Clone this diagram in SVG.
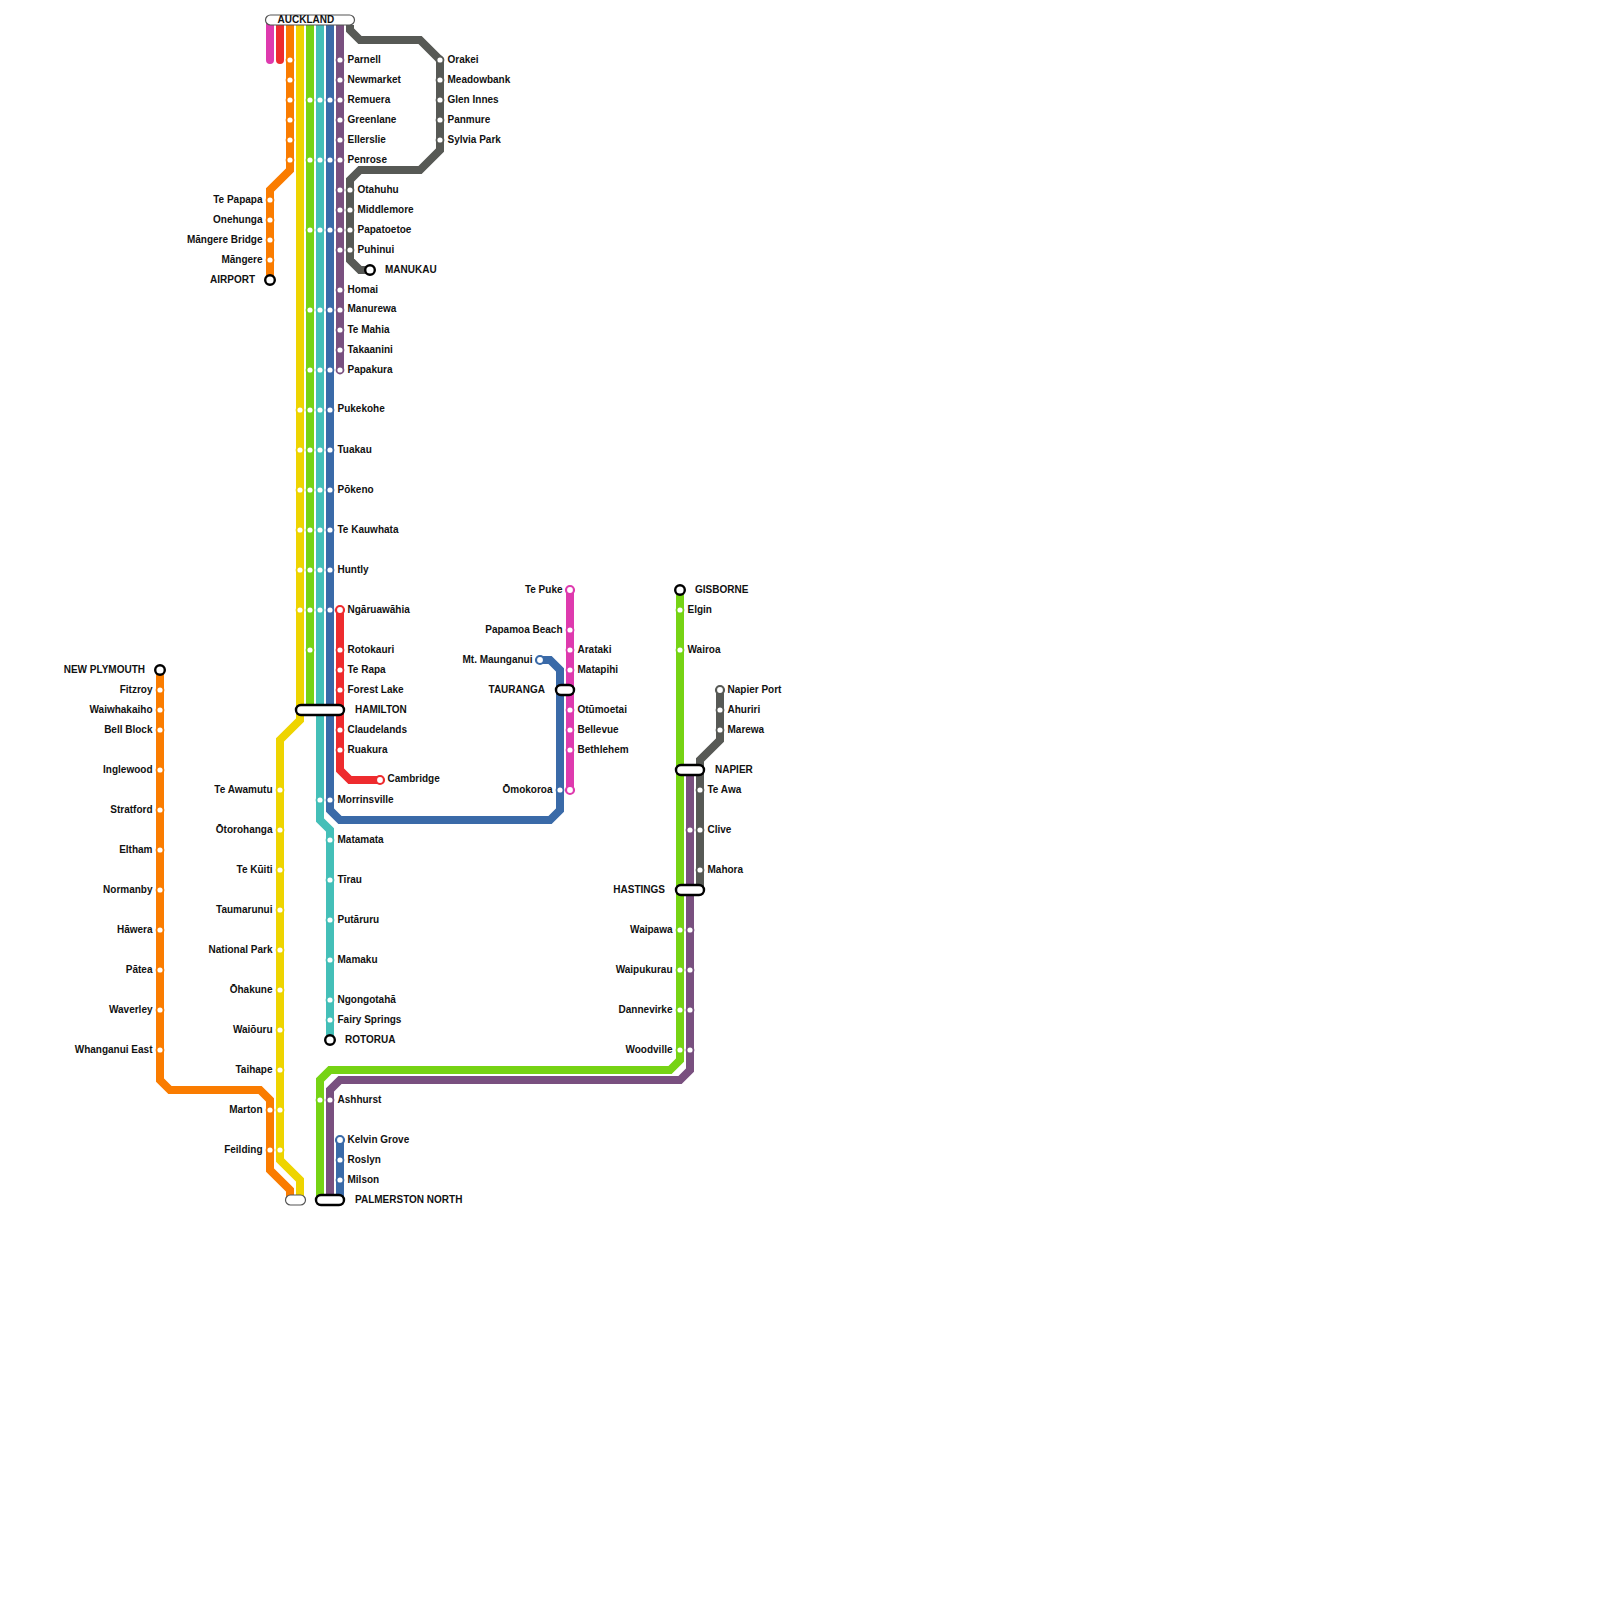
<svg xmlns="http://www.w3.org/2000/svg" width="1600" height="1600" viewBox="0 0 1600 1600">
<style>
.bg{fill:#fff}
.l{fill:none;stroke-width:8;stroke-linejoin:miter;stroke-linecap:butt}
.r{stroke-linecap:round}
.mg{stroke:#de3aae}.rd{stroke:#ee2b2e}.or{stroke:#fa7c00}.ye{stroke:#eed400}.gn{stroke:#76d314}.te{stroke:#44bfb8}.bl{stroke:#3a6aa8}.pu{stroke:#79507f}.gy{stroke:#575955}
circle{fill:#fff;stroke-width:1.8}
.s{r:3.5px}
.t{r:4px;stroke-width:2.2px}
.x{r:4.8px;stroke:#000;stroke-width:2.4px}
.p{fill:#fff;stroke:#000;stroke-width:2.4}
.q{fill:#fff;stroke:#555;stroke-width:1.2}
text{font-family:"Liberation Sans",Arial,sans-serif;font-size:10px;font-weight:700;fill:#111}
.e{text-anchor:end}
</style>
<rect class="bg" width="1600" height="1600"/>
<g id="connectors">
<path class="l r mg" d="M270 20V60"/>
<path class="l r rd" d="M280 20V60"/>
<path class="l or" d="M290 20V170L270 190V280"/>
<path class="l ye" d="M300 20V720L280 740V1160L300 1180V1200"/>
<path class="l gn" d="M310 20V710"/>
<path class="l te" d="M320 20V820L330 830V1040"/>
<path class="l bl" d="M330 20V810L340 820H550L560 810V670L550 660H540"/>
<path class="l pu" d="M340 20V370"/>
<path class="l gy" d="M350 25V30L360 40H420L440 60V150L420 170H360L350 180V260L360 270H370"/>
<path class="l rd" d="M340 610V770L350 780H380"/>
<path class="l or" d="M160 670V1080L170 1090H260L270 1100V1170L290 1190V1200"/>
<path class="l mg" d="M570 590V790"/>
<path class="l gn" d="M680 590V1060L670 1070H330L320 1080V1200"/>
<path class="l pu" d="M690 770V1070L680 1080H340L330 1090V1200"/>
<path class="l gy" d="M720 690V740L700 760V890"/>
<path class="l bl" d="M340 1140V1200"/>
</g>
<g id="pills">
<g id="n-auckland"><rect class="q" x="265.500" y="15" width="89" height="10" rx="5"/><text x="277.500" y="23">AUCKLAND</text></g>
<g id="n-hamilton"><rect class="p" x="296" y="705" width="48" height="10" rx="5"/><text x="355" y="713">HAMILTON</text></g>
<g id="n-tauranga"><rect class="p" x="556" y="685" width="18" height="10" rx="5"/><text class="e" x="545" y="692.500">TAURANGA</text></g>
<g id="n-napier"><rect class="p" x="676" y="765" width="28" height="10" rx="5"/><text x="715" y="773">NAPIER</text></g>
<g id="n-hastings"><rect class="p" x="676" y="885" width="28" height="10" rx="5"/><text class="e" x="665" y="892.500">HASTINGS</text></g>
<g id="n-palmerston"><rect class="p" x="316" y="1195" width="28" height="10" rx="5"/><text x="355" y="1202.500">PALMERSTON NORTH</text></g>
<g id="n-palmerston-west"><rect class="q" x="285.500" y="1195" width="20" height="10" rx="5"/></g>
</g>
<g id="n-parnell"><circle class="s or" cx="290" cy="60"/><circle class="s pu" cx="340" cy="60"/><text x="347.500" y="62.500">Parnell</text></g>
<g id="n-newmarket"><circle class="s or" cx="290" cy="80"/><circle class="s pu" cx="340" cy="80"/><text x="347.500" y="82.500">Newmarket</text></g>
<g id="n-remuera"><circle class="s or" cx="290" cy="100"/><circle class="s gn" cx="310" cy="100"/><circle class="s te" cx="320" cy="100"/><circle class="s bl" cx="330" cy="100"/><circle class="s pu" cx="340" cy="100"/><text x="347.500" y="102.500">Remuera</text></g>
<g id="n-greenlane"><circle class="s or" cx="290" cy="120"/><circle class="s pu" cx="340" cy="120"/><text x="347.500" y="122.500">Greenlane</text></g>
<g id="n-ellerslie"><circle class="s or" cx="290" cy="140"/><circle class="s pu" cx="340" cy="140"/><text x="347.500" y="142.500">Ellerslie</text></g>
<g id="n-penrose"><circle class="s or" cx="290" cy="160"/><circle class="s gn" cx="310" cy="160"/><circle class="s te" cx="320" cy="160"/><circle class="s bl" cx="330" cy="160"/><circle class="s pu" cx="340" cy="160"/><text x="347.500" y="162.500">Penrose</text></g>
<g id="n-orakei"><circle class="s gy" cx="440" cy="60"/><text x="447.500" y="62.500">Orakei</text></g>
<g id="n-meadowbank"><circle class="s gy" cx="440" cy="80"/><text x="447.500" y="82.500">Meadowbank</text></g>
<g id="n-glen-innes"><circle class="s gy" cx="440" cy="100"/><text x="447.500" y="102.500">Glen Innes</text></g>
<g id="n-panmure"><circle class="s gy" cx="440" cy="120"/><text x="447.500" y="122.500">Panmure</text></g>
<g id="n-sylvia-park"><circle class="s gy" cx="440" cy="140"/><text x="447.500" y="142.500">Sylvia Park</text></g>
<g id="n-otahuhu"><circle class="s pu" cx="340" cy="190"/><circle class="s gy" cx="350" cy="190"/><text x="357.500" y="192.500">Otahuhu</text></g>
<g id="n-middlemore"><circle class="s pu" cx="340" cy="210"/><circle class="s gy" cx="350" cy="210"/><text x="357.500" y="212.500">Middlemore</text></g>
<g id="n-papatoetoe"><circle class="s gn" cx="310" cy="230"/><circle class="s te" cx="320" cy="230"/><circle class="s bl" cx="330" cy="230"/><circle class="s pu" cx="340" cy="230"/><circle class="s gy" cx="350" cy="230"/><text x="357.500" y="232.500">Papatoetoe</text></g>
<g id="n-puhinui"><circle class="s pu" cx="340" cy="250"/><circle class="s gy" cx="350" cy="250"/><text x="357.500" y="252.500">Puhinui</text></g>
<g id="n-manukau"><circle class="x" cx="370" cy="270"/><text x="385" y="272.500">MANUKAU</text></g>
<g id="n-te-papapa"><circle class="s or" cx="270" cy="200"/><text class="e" x="262.500" y="202.500">Te Papapa</text></g>
<g id="n-onehunga"><circle class="s or" cx="270" cy="220"/><text class="e" x="262.500" y="222.500">Onehunga</text></g>
<g id="n-mangere-bridge"><circle class="s or" cx="270" cy="240"/><text class="e" x="262.500" y="242.500">Māngere Bridge</text></g>
<g id="n-mangere"><circle class="s or" cx="270" cy="260"/><text class="e" x="262.500" y="262.500">Māngere</text></g>
<g id="n-airport"><circle class="x" cx="270" cy="280"/><text class="e" x="255" y="282.500">AIRPORT</text></g>
<g id="n-homai"><circle class="s pu" cx="340" cy="290"/><text x="347.500" y="292.500">Homai</text></g>
<g id="n-manurewa"><circle class="s gn" cx="310" cy="310"/><circle class="s te" cx="320" cy="310"/><circle class="s bl" cx="330" cy="310"/><circle class="s pu" cx="340" cy="310"/><text x="347.500" y="312">Manurewa</text></g>
<g id="n-te-mahia"><circle class="s pu" cx="340" cy="330"/><text x="347.500" y="332.500">Te Mahia</text></g>
<g id="n-takaanini"><circle class="s pu" cx="340" cy="350"/><text x="347.500" y="352.500">Takaanini</text></g>
<g id="n-papakura"><circle class="s gn" cx="310" cy="370"/><circle class="s te" cx="320" cy="370"/><circle class="s bl" cx="330" cy="370"/><circle class="s pu" cx="340" cy="370"/><text x="347.500" y="372.500">Papakura</text></g>
<g id="n-pukekohe"><circle class="s ye" cx="300" cy="410"/><circle class="s gn" cx="310" cy="410"/><circle class="s te" cx="320" cy="410"/><circle class="s bl" cx="330" cy="410"/><text x="337.500" y="412">Pukekohe</text></g>
<g id="n-tuakau"><circle class="s ye" cx="300" cy="450"/><circle class="s gn" cx="310" cy="450"/><circle class="s te" cx="320" cy="450"/><circle class="s bl" cx="330" cy="450"/><text x="337.500" y="452.500">Tuakau</text></g>
<g id="n-pokeno"><circle class="s ye" cx="300" cy="490"/><circle class="s gn" cx="310" cy="490"/><circle class="s te" cx="320" cy="490"/><circle class="s bl" cx="330" cy="490"/><text x="337.500" y="492.500">Pōkeno</text></g>
<g id="n-te-kauwhata"><circle class="s ye" cx="300" cy="530"/><circle class="s gn" cx="310" cy="530"/><circle class="s te" cx="320" cy="530"/><circle class="s bl" cx="330" cy="530"/><text x="337.500" y="532.500">Te Kauwhata</text></g>
<g id="n-huntly"><circle class="s ye" cx="300" cy="570"/><circle class="s gn" cx="310" cy="570"/><circle class="s te" cx="320" cy="570"/><circle class="s bl" cx="330" cy="570"/><text x="337.500" y="572.500">Huntly</text></g>
<g id="n-ngaruawahia"><circle class="s ye" cx="300" cy="610"/><circle class="s gn" cx="310" cy="610"/><circle class="s te" cx="320" cy="610"/><circle class="s bl" cx="330" cy="610"/><circle class="t rd" cx="340" cy="610"/><text x="347.500" y="612.500">Ngāruawāhia</text></g>
<g id="n-rotokauri"><circle class="s gn" cx="310" cy="650"/><circle class="s rd" cx="340" cy="650"/><text x="347.500" y="652.500">Rotokauri</text></g>
<g id="n-te-rapa"><circle class="s rd" cx="340" cy="670"/><text x="347.500" y="672.500">Te Rapa</text></g>
<g id="n-forest-lake"><circle class="s rd" cx="340" cy="690"/><text x="347.500" y="692.500">Forest Lake</text></g>
<g id="n-claudelands"><circle class="s rd" cx="340" cy="730"/><text x="347.500" y="732.500">Claudelands</text></g>
<g id="n-ruakura"><circle class="s rd" cx="340" cy="750"/><text x="347.500" y="752.500">Ruakura</text></g>
<g id="n-cambridge"><circle class="t rd" cx="380" cy="780"/><text x="387.500" y="782">Cambridge</text></g>
<g id="n-morrinsville"><circle class="s te" cx="320" cy="800"/><circle class="s bl" cx="330" cy="800"/><text x="337.500" y="802.500">Morrinsville</text></g>
<g id="n-matamata"><circle class="s te" cx="330" cy="840"/><text x="337.500" y="842.500">Matamata</text></g>
<g id="n-tirau"><circle class="s te" cx="330" cy="880"/><text x="337.500" y="882.500">Tīrau</text></g>
<g id="n-putaruru"><circle class="s te" cx="330" cy="920"/><text x="337.500" y="922.500">Putāruru</text></g>
<g id="n-mamaku"><circle class="s te" cx="330" cy="960"/><text x="337.500" y="962.500">Mamaku</text></g>
<g id="n-ngongotaha"><circle class="s te" cx="330" cy="1000"/><text x="337.500" y="1002.500">Ngongotahā</text></g>
<g id="n-fairy-springs"><circle class="s te" cx="330" cy="1020"/><text x="337.500" y="1022.500">Fairy Springs</text></g>
<g id="n-rotorua"><circle class="x" cx="330" cy="1040"/><text x="345" y="1042.500">ROTORUA</text></g>
<g id="n-te-awamutu"><circle class="s ye" cx="280" cy="790"/><text class="e" x="272.500" y="792.500">Te Awamutu</text></g>
<g id="n-otorohanga"><circle class="s ye" cx="280" cy="830"/><text class="e" x="272.500" y="832.500">Ōtorohanga</text></g>
<g id="n-te-kuiti"><circle class="s ye" cx="280" cy="870"/><text class="e" x="272.500" y="872.500">Te Kūiti</text></g>
<g id="n-taumarunui"><circle class="s ye" cx="280" cy="910"/><text class="e" x="272.500" y="912.500">Taumarunui</text></g>
<g id="n-national-park"><circle class="s ye" cx="280" cy="950"/><text class="e" x="272.500" y="952.500">National Park</text></g>
<g id="n-ohakune"><circle class="s ye" cx="280" cy="990"/><text class="e" x="272.500" y="992.500">Ōhakune</text></g>
<g id="n-waiouru"><circle class="s ye" cx="280" cy="1030"/><text class="e" x="272.500" y="1032.500">Waiōuru</text></g>
<g id="n-taihape"><circle class="s ye" cx="280" cy="1070"/><text class="e" x="272.500" y="1072.500">Taihape</text></g>
<g id="n-marton"><circle class="s or" cx="270" cy="1110"/><circle class="s ye" cx="280" cy="1110"/><text class="e" x="262.500" y="1112.500">Marton</text></g>
<g id="n-feilding"><circle class="s or" cx="270" cy="1150"/><circle class="s ye" cx="280" cy="1150"/><text class="e" x="262.500" y="1152.500">Feilding</text></g>
<g id="n-new-plymouth"><circle class="x" cx="160" cy="670"/><text class="e" x="145" y="672.500">NEW PLYMOUTH</text></g>
<g id="n-fitzroy"><circle class="s or" cx="160" cy="690"/><text class="e" x="152.500" y="692.500">Fitzroy</text></g>
<g id="n-waiwhakaiho"><circle class="s or" cx="160" cy="710"/><text class="e" x="152.500" y="712.500">Waiwhakaiho</text></g>
<g id="n-bell-block"><circle class="s or" cx="160" cy="730"/><text class="e" x="152.500" y="732.500">Bell Block</text></g>
<g id="n-inglewood"><circle class="s or" cx="160" cy="770"/><text class="e" x="152.500" y="772.500">Inglewood</text></g>
<g id="n-stratford"><circle class="s or" cx="160" cy="810"/><text class="e" x="152.500" y="812.500">Stratford</text></g>
<g id="n-eltham"><circle class="s or" cx="160" cy="850"/><text class="e" x="152.500" y="852.500">Eltham</text></g>
<g id="n-normanby"><circle class="s or" cx="160" cy="890"/><text class="e" x="152.500" y="892.500">Normanby</text></g>
<g id="n-hawera"><circle class="s or" cx="160" cy="930"/><text class="e" x="152.500" y="932.500">Hāwera</text></g>
<g id="n-patea"><circle class="s or" cx="160" cy="970"/><text class="e" x="152.500" y="972.500">Pātea</text></g>
<g id="n-waverley"><circle class="s or" cx="160" cy="1010"/><text class="e" x="152.500" y="1012.500">Waverley</text></g>
<g id="n-whanganui-east"><circle class="s or" cx="160" cy="1050"/><text class="e" x="152.500" y="1052.500">Whanganui East</text></g>
<g id="n-ashhurst"><circle class="s gn" cx="320" cy="1100"/><circle class="s pu" cx="330" cy="1100"/><text x="337.500" y="1102.500">Ashhurst</text></g>
<g id="n-kelvin-grove"><circle class="t bl" cx="340" cy="1140"/><text x="347.500" y="1142.500">Kelvin Grove</text></g>
<g id="n-roslyn"><circle class="s bl" cx="340" cy="1160"/><text x="347.500" y="1162.500">Roslyn</text></g>
<g id="n-milson"><circle class="s bl" cx="340" cy="1180"/><text x="347.500" y="1182.500">Milson</text></g>
<g id="n-te-puke"><circle class="t mg" cx="570" cy="590"/><text class="e" x="562.500" y="592.500">Te Puke</text></g>
<g id="n-papamoa-beach"><circle class="s mg" cx="570" cy="630"/><text class="e" x="562.500" y="632.500">Papamoa Beach</text></g>
<g id="n-arataki"><circle class="s mg" cx="570" cy="650"/><text x="577.500" y="652.500">Arataki</text></g>
<g id="n-matapihi"><circle class="s mg" cx="570" cy="670"/><text x="577.500" y="672.500">Matapihi</text></g>
<g id="n-otumoetai"><circle class="s mg" cx="570" cy="710"/><text x="577.500" y="712.500">Otūmoetai</text></g>
<g id="n-bellevue"><circle class="s mg" cx="570" cy="730"/><text x="577.500" y="732.500">Bellevue</text></g>
<g id="n-bethlehem"><circle class="s mg" cx="570" cy="750"/><text x="577.500" y="752.500">Bethlehem</text></g>
<g id="n-omokoroa"><circle class="s bl" cx="560" cy="790"/><circle class="t mg" cx="570" cy="790"/><text class="e" x="552.500" y="792.500">Ōmokoroa</text></g>
<g id="n-mt-maunganui"><circle class="t bl" cx="540" cy="660"/><text class="e" x="532.500" y="662.500">Mt. Maunganui</text></g>
<g id="n-gisborne"><circle class="x" cx="680" cy="590"/><text x="695" y="592.500">GISBORNE</text></g>
<g id="n-elgin"><circle class="s gn" cx="680" cy="610"/><text x="687.500" y="612.500">Elgin</text></g>
<g id="n-wairoa"><circle class="s gn" cx="680" cy="650"/><text x="687.500" y="652.500">Wairoa</text></g>
<g id="n-napier-port"><circle class="t gy" cx="720" cy="690"/><text x="727.500" y="692.500">Napier Port</text></g>
<g id="n-ahuriri"><circle class="s gy" cx="720" cy="710"/><text x="727.500" y="712.500">Ahuriri</text></g>
<g id="n-marewa"><circle class="s gy" cx="720" cy="730"/><text x="727.500" y="732.500">Marewa</text></g>
<g id="n-te-awa"><circle class="s gy" cx="700" cy="790"/><text x="707.500" y="792.500">Te Awa</text></g>
<g id="n-clive"><circle class="s pu" cx="690" cy="830"/><circle class="s gy" cx="700" cy="830"/><text x="707.500" y="832.500">Clive</text></g>
<g id="n-mahora"><circle class="s gy" cx="700" cy="870"/><text x="707.500" y="872.500">Mahora</text></g>
<g id="n-waipawa"><circle class="s gn" cx="680" cy="930"/><circle class="s pu" cx="690" cy="930"/><text class="e" x="672.500" y="932.500">Waipawa</text></g>
<g id="n-waipukurau"><circle class="s gn" cx="680" cy="970"/><circle class="s pu" cx="690" cy="970"/><text class="e" x="672.500" y="972.500">Waipukurau</text></g>
<g id="n-dannevirke"><circle class="s gn" cx="680" cy="1010"/><circle class="s pu" cx="690" cy="1010"/><text class="e" x="672.500" y="1012.500">Dannevirke</text></g>
<g id="n-woodville"><circle class="s gn" cx="680" cy="1050"/><circle class="s pu" cx="690" cy="1050"/><text class="e" x="672.500" y="1052.500">Woodville</text></g>
</svg>
